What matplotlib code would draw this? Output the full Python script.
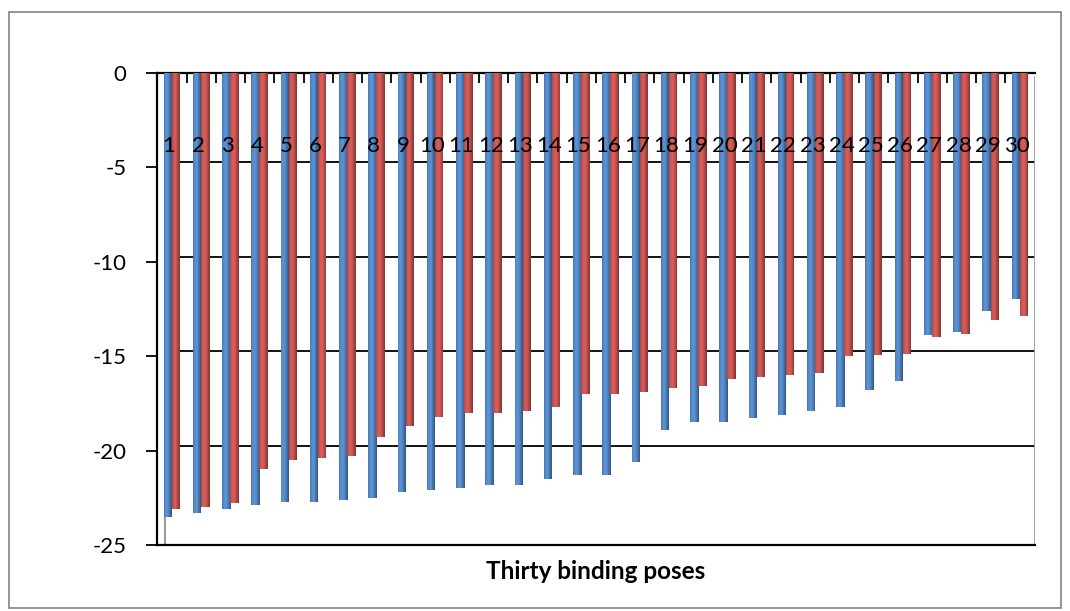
import numpy as np
import matplotlib
matplotlib.use("Agg")
import matplotlib.pyplot as plt
from matplotlib.patches import Rectangle
from matplotlib.colors import to_rgb

plt.rcParams['font.family'] = ['Lato', 'DejaVu Sans']

poses = list(range(1, 31))
series_blue = [-23.5, -23.3, -23.1, -22.9, -22.7, -22.7, -22.6, -22.5, -22.2, -22.1,
               -22.0, -21.8, -21.8, -21.5, -21.3, -21.3, -20.6, -18.9, -18.5, -18.5,
               -18.3, -18.1, -17.9, -17.7, -16.8, -16.3, -13.9, -13.7, -12.6, -12.0]
series_red = [-23.1, -23.0, -22.8, -21.0, -20.5, -20.4, -20.3, -19.3, -18.7, -18.2,
              -18.0, -18.0, -17.9, -17.7, -17.0, -17.0, -16.9, -16.7, -16.6, -16.2,
              -16.1, -16.0, -15.9, -15.0, -14.95, -14.9, -14.0, -13.85, -13.1, -12.9]
yticks = [0, -5, -10, -15, -20, -25]
xlabel = "Thirty binding poses"

fig = plt.figure(figsize=(10.70, 6.11), dpi=100)
fig.patches.append(Rectangle((0.008, 0.005), 0.984, 0.975, transform=fig.transFigure,
                             fill=False, edgecolor='#8c8c8c', linewidth=1.3))
ax = fig.add_axes([0.147, 0.108, 0.82, 0.773])

ax.set_xlim(0.5, 30.5)
ax.set_ylim(-25, 0)

# back wall gridlines
for v in yticks[1:-1]:
    ax.axhline(v + 0.25, xmin=0.01, xmax=1.0, color='black', linewidth=1.3, zorder=1)
ax.axvline(0.75, ymin=0.005, ymax=0.99, color='#9a9a9a', linewidth=1.5, zorder=1)
ax.axvline(30.5, ymin=0.005, ymax=0.99, color='#9a9a9a', linewidth=2, zorder=1)


def cylinder(xs, vals, base, width):
    # stack narrow slices to fake a shaded cylinder
    base = np.array(to_rgb(base))
    n = 9
    edges = np.linspace(-width / 2, width / 2, n + 1)
    for k in range(n):
        t = (edges[k] + edges[k + 1]) / 2 / (width / 2)
        shade = 0.72 + 0.38 * np.cos((t + 0.25) * np.pi / 2.2)
        col = np.clip(base * shade + (shade - 1) * 0.15 * (shade > 1), 0, 1)
        ax.bar(np.array(xs) + (edges[k] + edges[k + 1]) / 2, vals,
               width=(edges[1] - edges[0]) * 1.02, color=col, linewidth=0, zorder=3)


xs = np.array(poses, dtype=float)
cylinder(xs - 0.14, series_blue, '#4F81BD', 0.29)
cylinder(xs + 0.14, series_red, '#C0504D', 0.29)

# category labels sit just under the zero line
for p in poses:
    ax.text(p - 0.1, -3.9, str(p), ha='center', va='center', fontsize=16, zorder=4)

ax.set_yticks(yticks)
ax.set_yticklabels([str(v) for v in yticks], fontsize=16)
ax.tick_params(axis='y', length=8, width=1.3, pad=14)
ax.set_xticks(np.arange(1.5, 30.5, 1.0))
ax.tick_params(axis='x', which='both', direction='in', length=7, width=1.3,
               bottom=False, top=True, labelbottom=False, labeltop=False)
for side in ['top', 'left', 'bottom']:
    ax.spines[side].set_linewidth(1.6)
ax.spines['right'].set_visible(False)
ax.patch.set_alpha(0)

ax.set_xlabel(xlabel, fontsize=17.5, fontweight='bold', labelpad=11)

fig.savefig("out.png", dpi=100)
